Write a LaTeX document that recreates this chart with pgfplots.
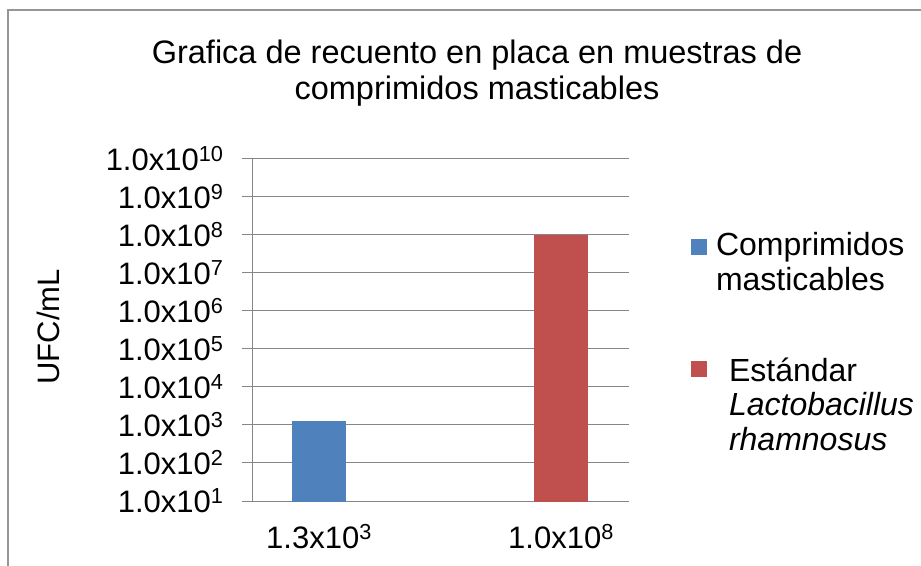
\documentclass[border=0pt]{standalone}
\usepackage{pgfplots}
\pgfplotsset{compat=1.18}
\usepackage{fontspec}
\setmainfont{Liberation Sans}
\definecolor{bblue}{RGB}{79,129,189}
\definecolor{bred}{RGB}{192,80,77}
\definecolor{gridgray}{RGB}{134,134,134}
\definecolor{framegray}{RGB}{150,150,150}
\newcommand{\sci}[2]{#1x10\textsuperscript{#2}}
\begin{document}
\begin{tikzpicture}[x=1pt,y=1pt]
\path[use as bounding box] (0,0) rectangle (921,565);
\begin{scope}
\clip (0,0) rectangle (921,565);
\draw[framegray, line width=1.5pt] (8,-20) -- (8,555) -- (940,555);
\end{scope}
\node[align=center, font=\fontsize{32.5}{36}\selectfont] at (477,492) {Grafica de recuento en placa en muestras de\\comprimidos masticables};
\begin{axis}[
  at={(252pt,64pt)}, anchor=south west, scale only axis,
  width=377pt, height=342pt,
  xmin=252, xmax=629, ymode=log, ymin=10, ymax=1e10,
  ytick={10,100,1000,1e4,1e5,1e6,1e7,1e8,1e9,1e10},
  yticklabels={\sci{1.0}{1},\sci{1.0}{2},\sci{1.0}{3},\sci{1.0}{4},\sci{1.0}{5},\sci{1.0}{6},\sci{1.0}{7},\sci{1.0}{8},\sci{1.0}{9},\sci{1.0}{10}},
  xtick={319,561}, xticklabels={\sci{1.3}{3},\sci{1.0}{8}},
  axis x line*=bottom, axis y line*=left,
  axis line style={gridgray, line width=1pt, -},
  ymajorgrids, major grid style={gridgray, line width=1pt},
  ytick style={gridgray, line width=1pt},
  major tick length=10pt, tick align=outside,
  xtick style={draw=none},
  yminorticks=false,
  ticklabel style={font=\fontsize{31}{36}\selectfont},
  xticklabel style={yshift=-10pt},
  yticklabel style={xshift=-15pt},
  ylabel={UFC/mL},
  every axis y label/.style={at={(axis description cs:-0.541,0.509)}, rotate=90, anchor=center, font=\fontsize{31}{36}\selectfont},
  ybar, bar width=54pt,
  legend style={at={(axis description cs:1.164,0.791)}, anchor=north west, draw=none, fill=none,
    font=\fontsize{32}{34.5}\selectfont, cells={align=left, anchor=west}, row sep=62pt, column sep=7pt, inner sep=0pt},
]
\addplot[fill=bblue, draw=none, bar shift=0pt,
  legend image code/.code={\fill[bblue, overlay] (0pt,7pt) rectangle (16pt,23pt); \path[fill=none, draw=none] (0pt,-8pt) rectangle (16pt,8pt);}]
  coordinates {(319,1.3e3)};
\addlegendentry{Comprimidos\\masticables}
\addplot[fill=bred, draw=none, bar shift=0pt,
  legend image code/.code={\fill[bred, overlay] (0pt,28pt) rectangle (16pt,44pt); \path[fill=none, draw=none] (0pt,-8pt) rectangle (16pt,8pt);}]
  coordinates {(561,1e8)};
\addlegendentry{\hspace*{13pt}Estándar\\\hspace*{13pt}\textit{Lactobacillus}\\\hspace*{13pt}\textit{rhamnosus}}
\end{axis}
\end{tikzpicture}
\end{document}
